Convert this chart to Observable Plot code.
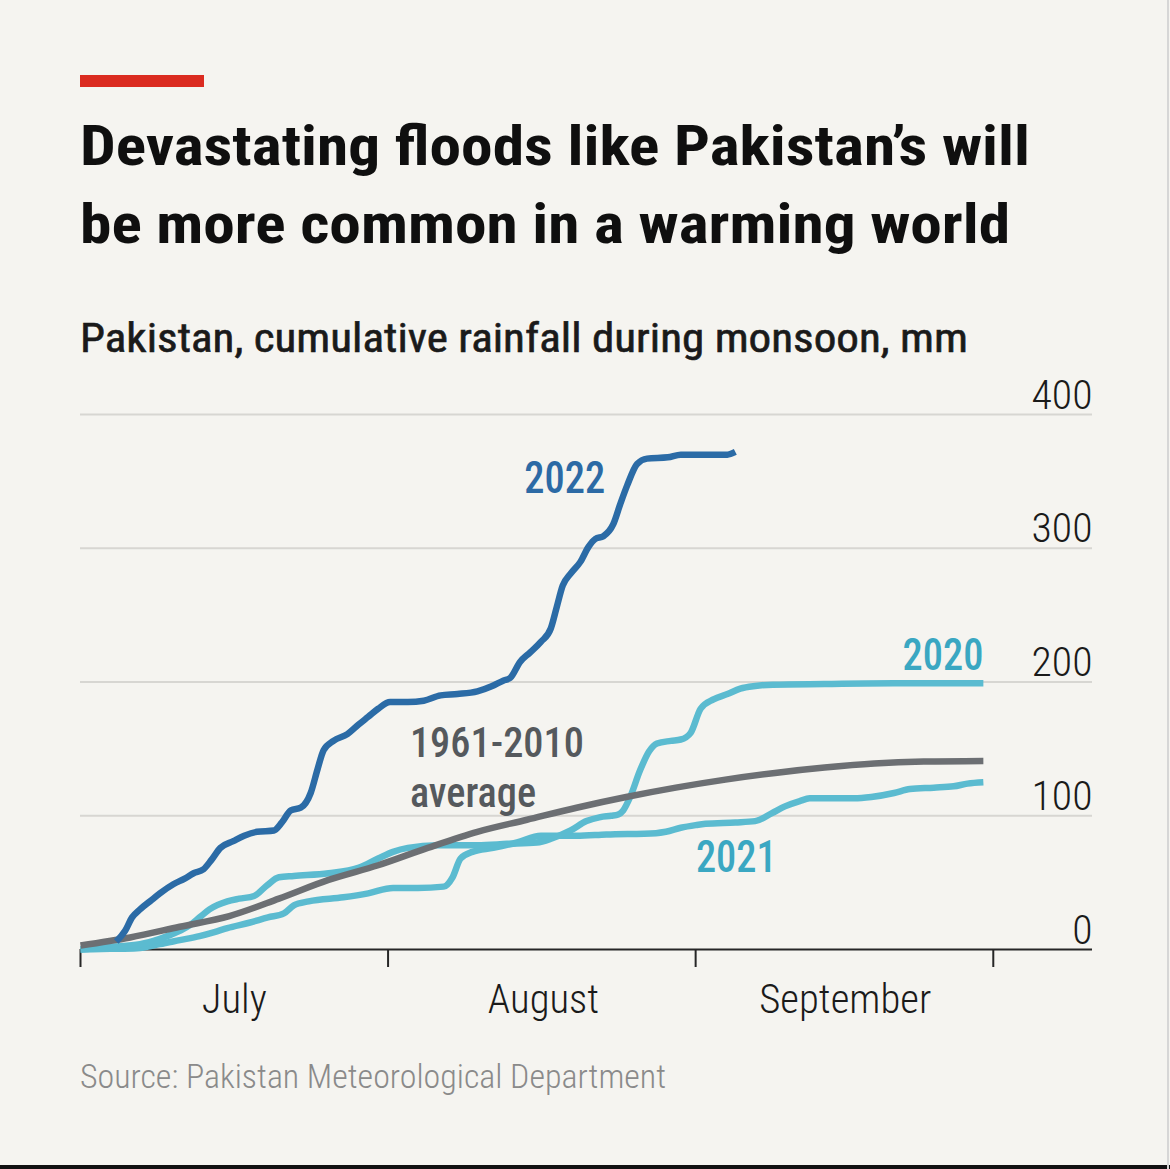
<!DOCTYPE html>
<html>
<head>
<meta charset="utf-8">
<script src="https://cdn.jsdelivr.net/npm/d3@7"></script>
<script src="https://cdn.jsdelivr.net/npm/@observablehq/plot@0.6"></script>
<style>
  html, body { margin: 0; padding: 0; background: #f5f4f0; }
  body { width: 1170px; height: 1169px; position: relative; overflow: hidden;
         font-family: "Roboto Condensed", "Liberation Sans Narrow", "DejaVu Sans Condensed", Roboto, "Noto Sans", sans-serif; }
  .bar { position: absolute; left: 80px; top: 75px; width: 124px; height: 12px; background: #db2b20; }
  .txt { position: absolute; white-space: nowrap; margin: 0; }
  h1.txt { font-size: 55px; font-weight: 700; color: #0f0f0f; line-height: 1; }
  #sub { font-size: 41px; font-weight: 400; color: #1a1a1a; line-height: 1; -webkit-text-stroke: 0.6px #1a1a1a; }
  #src { font-size: 34px; font-weight: 300; color: #8a8a8a; line-height: 1; }
  #chart { position: absolute; left: 0; top: 370px; }
  .bottomline { position: absolute; left: 0; top: 1165px; width: 1170px; height: 4px; background: #111; }
  .rightline { position: absolute; left: 1167px; top: 0; width: 2px; height: 1169px; background: #d6d6d6; }
</style>
</head>
<body>
<div class="bar"></div>
<h1 id="t1" class="txt">Devastating floods like Pakistan’s will</h1>
<h1 id="t2" class="txt">be more common in a warming world</h1>
<div id="sub" class="txt">Pakistan, cumulative rainfall during monsoon, mm</div>
<div id="chart"></div>
<div id="src" class="txt">Source: Pakistan Meteorological Department</div>
<div class="bottomline"></div>
<div class="rightline"></div>
<script>
// ---------- DATA (days after 1 July; cumulative rainfall, mm) ----------
const days2022 = [3.6, 4.5, 5.2, 6, 7, 8, 9.4, 10.5, 11.4, 12.4, 13.2, 14.1, 15.4, 16.5, 17.8, 19.5, 20.3, 21.2, 22.2, 23.2, 23.9, 24.5, 25.5, 26.9, 28, 29, 30, 31.2, 33, 34.6, 36.3, 38, 40, 41.5, 42.6, 43.3, 44.3, 45.3, 46.4, 47.4, 48, 48.6, 49.4, 50.4, 51.2, 51.9, 52.7, 53.7, 54.4, 55.1, 56.1, 57.1, 59.2, 60.5, 63.8, 65.2, 66];
const vals2022 = [6, 14, 24, 30, 36, 42, 49, 53, 57, 60, 67, 76, 81, 85, 88, 89, 95, 104, 106, 117, 135, 149, 156, 161, 168, 174, 180, 185, 185, 186, 190, 191, 193, 197, 201, 203, 215, 222, 230, 240, 256, 272, 281, 290, 301, 307, 309, 318, 333, 347, 363, 367, 368, 370, 370, 370, 372];

const days2020 = [0, 3, 6, 8, 10, 11, 12, 13, 14.8, 16, 17.5, 18.8, 20, 21.5, 25, 28, 30, 31.5, 33, 36, 40, 43, 46, 47.5, 49.4, 51, 52.4, 53.5, 54.2, 54.7, 55.4, 56.4, 57.3, 58.1, 59.5, 60.5, 61.5, 62.5, 63.8, 65.2, 66.5, 68, 69.8, 75, 82, 91];
const vals2020 = [0, 2, 4, 8, 14, 18, 24, 30, 36, 38, 40, 48, 54, 55, 57, 61, 68, 73, 76, 78, 78, 79, 80, 83, 89, 96, 99, 100, 101, 104, 114, 134, 148, 154, 156, 157, 162, 180, 187, 191, 195, 197, 198, 198.5, 199, 199];

const days2021 = [0, 3, 5.7, 8, 10, 12, 13.5, 14.8, 17, 18.9, 20.5, 21.5, 23, 26.5, 29, 31.5, 34, 36.6, 37.5, 38.3, 39.5, 41.6, 44, 46.4, 50, 53, 58, 59, 60.5, 62, 63, 66, 68, 69.7, 71, 72.5, 73.5, 78, 79.7, 82, 83.6, 86, 88, 89.4, 91];
const vals2021 = [0, 0.5, 1, 4, 7, 10, 13, 16, 20, 24, 27, 33, 36, 39, 42, 46, 46, 47, 54, 68, 73, 76, 80, 85, 85, 86, 87, 88, 91, 93, 94, 95, 96, 102, 107, 111, 113, 113, 114, 117, 120, 121, 122, 124, 125];

const daysAvg = [0, 5, 10, 15, 20, 25, 30, 35, 40, 45, 50, 55, 60, 65, 70, 75, 80, 85, 91];
const valsAvg = [3, 9, 17, 25, 38, 52, 63, 76, 88, 97, 106, 114, 121, 127, 132, 136, 139, 140.5, 141];

const yTicks = [0, 100, 200, 300, 400];
const monthTicks = ["2022-07-01", "2022-08-01", "2022-09-01", "2022-10-01"];
const monthLabelDates = ["2022-07-16T12:00Z", "2022-08-16T16:00Z", "2022-09-16T02:00Z"];
const domainEnd = "2022-10-11";

const labelText  = ["2022", "2020", "2021", "1961-2010\naverage"];
const labelDay   = [48.8, 91, 66.1, 33.2];
const labelValue = [341, 208.6, 57.6, 145];
const labelAnchor = ["middle", "end", "middle", "start"];
const labelColor = ["#2c6aa5", "#3aa7c2", "#3aa7c2", "#55595d"];

// ---------- BUILD ----------
const FONT = `"Roboto Condensed", "Liberation Sans Narrow", "DejaVu Sans Condensed", Roboto, "Noto Sans", sans-serif`;
const start = Date.UTC(2022, 6, 1);
const toDate = d => new Date(start + d * 864e5);
const series = (days, vals) => days.map((d, i) => ({date: toDate(d), value: vals[i]}));
const s2022 = series(days2022, vals2022);
const s2020 = series(days2020, vals2020);
const s2021 = series(days2021, vals2021);
const sAvg = series(daysAvg, valsAvg);
const labels = labelText.map((t, i) => ({text: t, date: toDate(labelDay[i]), value: labelValue[i], anchor: labelAnchor[i], color: labelColor[i]}));

const lineOpts = {x: "date", y: "value", strokeWidth: 6.5, curve: "monotone-x", strokeLinejoin: "round", strokeLinecap: "butt"};
const multi = t => t.includes("\n");

const chart = Plot.plot({
  width: 1170, height: 670,
  marginLeft: 80, marginRight: 78, marginTop: 44, marginBottom: 91,
  style: {background: "transparent", fontFamily: FONT, overflow: "visible"},
  x: {type: "utc", domain: [new Date(monthTicks[0]), new Date(domainEnd)]},
  y: {domain: [0, 400], axis: null},
  marks: [
    Plot.ruleY(yTicks.filter(d => d > 0), {stroke: "#d7d6d2", strokeWidth: 2}),
    Plot.ruleY([0], {stroke: "#262626", strokeWidth: 2}),
    Plot.axisX({ticks: monthTicks.map(d => new Date(d)), tickSize: 18, tickFormat: () => "", stroke: "#262626", strokeWidth: 2}),
    Plot.text(monthLabelDates.map(d => new Date(d)), {x: d => d, text: d3.utcFormat("%B"), frameAnchor: "bottom", lineAnchor: "bottom", dy: 63, fontSize: 40, fontWeight: 300, fill: "#1a1a1a"}),
    Plot.text(yTicks, {y: d => d, text: d => String(d), frameAnchor: "right", textAnchor: "end", lineAnchor: "bottom", dy: -6, fontSize: 41, fontWeight: 300, fill: "#1a1a1a"}),
    Plot.line(s2021, {...lineOpts, stroke: "#5bbbd0"}),
    Plot.line(s2020, {...lineOpts, stroke: "#5bbbd0"}),
    Plot.line(sAvg, {...lineOpts, stroke: "#6c6f73"}),
    Plot.line(s2022, {...lineOpts, stroke: "#2b6ba6"}),
    ...labels.map(l => Plot.text([l], {x: "date", y: "value", text: "text", fill: l.color, textAnchor: l.anchor,
      lineAnchor: multi(l.text) ? "top" : "bottom", dy: multi(l.text) ? -34 : 0, lineHeight: 1.19,
      fontSize: multi(l.text) ? 42 : 44, fontWeight: 500}))
  ]
});
document.getElementById("chart").appendChild(chart);

// ---------- LAYOUT HELPERS ----------
function place(el, left, baseline, target, forcedScale) {
  el.style.left = left + "px"; el.style.top = "0px"; el.style.transform = "none";
  const probe = document.createElement("span");
  probe.style.cssText = "display:inline-block;width:0;height:0;vertical-align:baseline";
  el.appendChild(probe);
  const r = el.getBoundingClientRect();
  const b = probe.getBoundingClientRect().top - r.top;
  el.removeChild(probe);
  el.style.top = (baseline - b) + "px";
  const s = forcedScale || (target ? target / r.width : 1);
  el.style.transformOrigin = "0 0";
  el.style.transform = `scaleX(${s})`;
  return s;
}
function condense(svg) {
  const c = document.createElement("canvas").getContext("2d");
  c.font = `300 40px ${FONT}`; const kReg = Math.min(1.2, 172 / c.measureText("September").width);
  c.font = `500 44px ${FONT}`; const kMed = Math.min(1.2, 174 / c.measureText("1961-2010").width);
  const items = [];
  svg.querySelectorAll("text").forEach(t => {
    const spans = t.querySelectorAll("tspan");
    const k = (+getComputedStyle(t).fontWeight >= 500) ? kMed : kReg;
    if (spans.length) spans.forEach(s => items.push([s, k * 44 / parseFloat(getComputedStyle(t).fontSize)]));
    else if (t.textContent) items.push([t, k]);
  });
  items.forEach(([t, k]) => {
    const w = t.getComputedTextLength();
    if (!w) return;
    t.setAttribute("textLength", (w * k).toFixed(1));
    t.setAttribute("lengthAdjust", "spacingAndGlyphs");
  });
}
function layout() {
  const s = place(document.getElementById("t1"), 80, 165, 950);
  place(document.getElementById("t2"), 80, 243, null, s);
  place(document.getElementById("sub"), 80, 352, 888);
  place(document.getElementById("src"), 80, 1088, 586);
  condense(chart);
}
layout();
</script>
</body>
</html>
